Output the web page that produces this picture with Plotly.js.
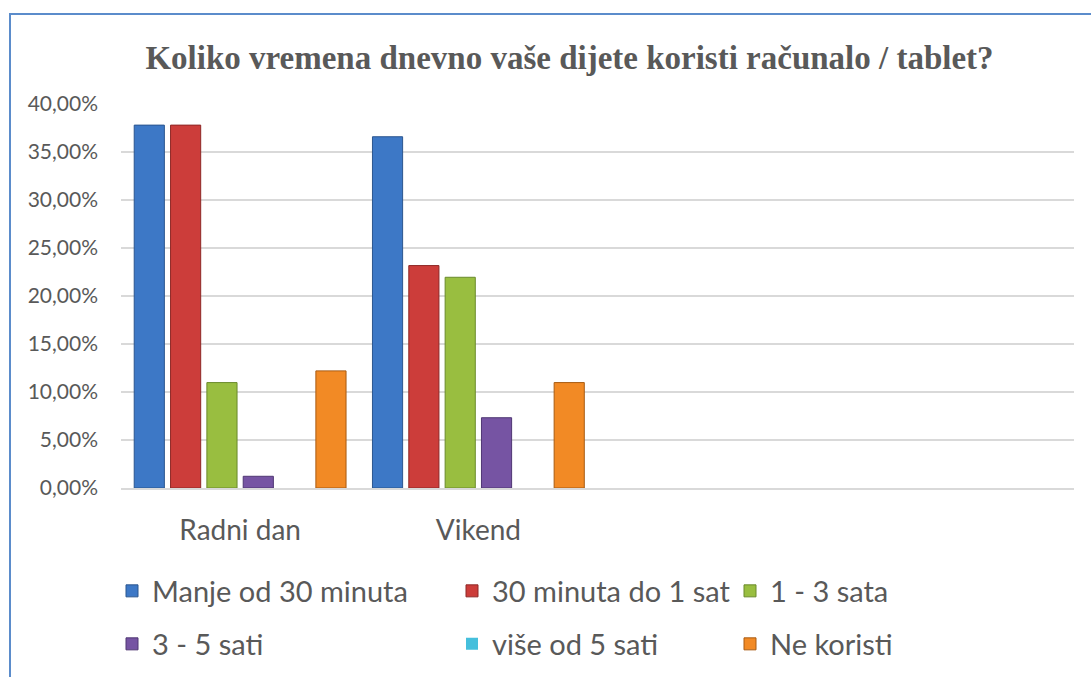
<!DOCTYPE html>
<html>
<head>
<meta charset="utf-8">
<script src="https://cdn.plot.ly/plotly-3.0.1.min.js"></script>
<style>
  html, body { margin: 0; padding: 0; background: #ffffff; }
  #wrap { position: relative; width: 1091px; height: 677px; overflow: hidden; }
  #chart { width: 1091px; height: 677px; }
  #frame { position: absolute; left: 9px; top: 13px; width: 1200px; height: 800px;
           border: 2px solid #5b8ccb; pointer-events: none; box-sizing: border-box; }
</style>
</head>
<body>
<div id="wrap">
  <div id="chart"></div>
  <div id="frame"></div>
</div>
<script>
// ---- data ----
const categories = ["Radni dan", "Vikend"];
const seriesNames = ["Manje od 30 minuta", "30 minuta do 1 sat", "1 - 3 sata", "3 - 5 sati", "više od 5 sati", "Ne koristi"];
const manjeOd30 = [0.3780, 0.3659];
const od30do1 = [0.3780, 0.2317];
const od1do3 = [0.1098, 0.2195];
const od3do5 = [0.0122, 0.0732];
const viseOd5 = [0, 0];
const neKoristi = [0.1220, 0.1098];
const yTicks = [0, 0.05, 0.10, 0.15, 0.20, 0.25, 0.30, 0.35, 0.40];

// ---- styling ----
const seriesValues = [manjeOd30, od30do1, od1do3, od3do5, viseOd5, neKoristi];
const fills = ["#3d78c6", "#cc3d3a", "#99be40", "#7654a3", "#45bfdc", "#f28a25"];
const edges = ["#2b568f", "#8e2826", "#6a8a2b", "#4f3673", "#2b8aa0", "#a85b12"];
const legendIds = ["legend", "legend2", "legend3", "legend4", "legend5", "legend6"];

const L = 121, R = 17, T = 104, B = 189, W = 1091, H = 677;
const pw = W - L - R, ph = H - T - B;
const px2x = p => (p - L) / pw;
const py2y = p => (H - B - p) / ph;
// legend text-start positions (px) and row centers
const legPos = [[112, 591], [452, 591], [730, 591], [112, 644], [452, 644], [730, 644]];

const traces = seriesNames.map((name, i) => ({
  type: "bar",
  name: name,
  x: categories,
  y: seriesValues[i],
  marker: {
    color: fills[i],
    line: { color: edges[i], width: seriesValues[i].map(v => (v > 0 ? 1 : 0)) }
  },
  legend: legendIds[i],
  hoverinfo: "skip"
}));

const legendFont = { family: "Lato, 'Open Sans', sans-serif", size: 29, color: "#595959" };
const layout = {
  width: W, height: H,
  margin: { l: L, r: R, t: T, b: B, autoexpand: false },
  paper_bgcolor: "#ffffff", plot_bgcolor: "#ffffff",
  separators: ", ",
  barmode: "group",
  bargap: 0.085,
  bargroupgap: 0.17,
  showlegend: true,
  title: {
    text: "Koliko vremena dnevno vaše dijete koristi računalo / tablet?",
    font: { family: "'Liberation Serif', 'Times New Roman', serif", size: 33, color: "#595959", weight: "bold" },
    x: 0.522, xanchor: "center", y: 0.915, yanchor: "middle", yref: "container"
  },
  xaxis: {
    type: "category",
    range: [-0.5, 3.5],
    showgrid: false,
    showline: true, linecolor: "#d9d9d9", linewidth: 2,
    ticks: "", ticklabelstandoff: 16,
    tickfont: { family: "Lato, 'Open Sans', sans-serif", size: 28, color: "#595959" },
    automargin: false,
    fixedrange: true
  },
  yaxis: {
    range: [0, 0.40],
    tickvals: yTicks,
    tickformat: ".2%",
    showgrid: true, gridcolor: "#d9d9d9", gridwidth: 2,
    zeroline: false, showline: false,
    ticks: "", ticklabelstandoff: 22,
    tickfont: { family: "Lato, 'Open Sans', sans-serif", size: 21, color: "#595959" },
    automargin: false,
    fixedrange: true
  }
};
legendIds.forEach((id, i) => {
  layout[id] = {
    x: px2x(legPos[i][0]), y: py2y(legPos[i][1]),
    xanchor: "left", yanchor: "middle",
    orientation: "v", bgcolor: "rgba(0,0,0,0)",
    font: legendFont, itemclick: false, itemdoubleclick: false
  };
});

Plotly.newPlot("chart", traces, layout, { staticPlot: true, displayModeBar: false });
</script>
</body>
</html>
